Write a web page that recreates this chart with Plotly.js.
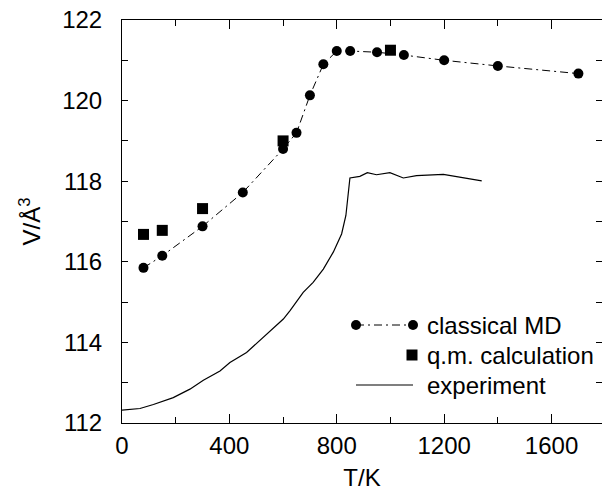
<!DOCTYPE html>
<html>
<head>
<meta charset="utf-8">
<script src="https://cdn.plot.ly/plotly-3.0.1.min.js"></script>
<style>html,body{margin:0;padding:0;background:#fff;}#chart{width:602px;height:491px;}</style>
</head>
<body>
<div id="chart"></div>
<script>
// classical MD
const mdT = [80, 150, 300, 450, 600, 650, 700, 750, 800, 850, 950, 1050, 1200, 1400, 1700];
const mdV = [115.85, 116.15, 116.88, 117.72, 118.8, 119.2, 120.13, 120.9, 121.23, 121.23, 121.2, 121.13, 121.0, 120.86, 120.67];
// q.m. calculation
const qmT = [80, 150, 300, 600, 1000];
const qmV = [116.68, 116.78, 117.32, 119.0, 121.25];
// experiment
const expT = [0, 67, 117, 191, 253, 303, 365, 402, 464, 526, 601, 626, 663, 675, 712, 750, 787, 818, 834, 843, 849, 886, 914, 948, 998, 1048, 1097, 1197, 1340];
const expV = [112.32, 112.36, 112.46, 112.63, 112.84, 113.06, 113.29, 113.5, 113.75, 114.12, 114.58, 114.79, 115.12, 115.24, 115.49, 115.82, 116.24, 116.69, 117.15, 117.65, 118.08, 118.12, 118.21, 118.16, 118.21, 118.08, 118.14, 118.17, 118.01];

const legendNames = ["classical MD", "q.m. calculation", "experiment"];

const FONT = "Liberation Sans, Arial, Helvetica, sans-serif";
const DASH = "8px,4px,2px,4px";

const traces = [
  {x: expT, y: expV, name: legendNames[2], type: "scatter", mode: "lines",
   line: {color: "#000", width: 1.2}, showlegend: false},
  {x: mdT, y: mdV, name: legendNames[0], type: "scatter", mode: "lines+markers",
   line: {color: "#000", width: 1, dash: DASH},
   marker: {symbol: "circle", size: 10, color: "#000"}, showlegend: false},
  {x: qmT, y: qmV, name: legendNames[1], type: "scatter", mode: "markers",
   marker: {symbol: "square", size: 11, color: "#000"}, showlegend: false}
];

// custom legend (paper coordinates)
const L = 122, T = 20, W = 480, H = 403;
const px = v => (v - L) / W;
const py = v => (T + H - v) / H;
const rows = [325, 355, 385];
const shapes = [
  {type: "line", xref: "paper", yref: "paper", x0: px(356), x1: px(413), y0: py(rows[0]), y1: py(rows[0]),
   line: {color: "#000", width: 1, dash: DASH}},
  {type: "circle", xref: "paper", yref: "paper", xsizemode: "pixel", ysizemode: "pixel",
   xanchor: px(356), yanchor: py(rows[0]), x0: -5, x1: 5, y0: -5, y1: 5, fillcolor: "#000", line: {width: 0}},
  {type: "circle", xref: "paper", yref: "paper", xsizemode: "pixel", ysizemode: "pixel",
   xanchor: px(413), yanchor: py(rows[0]), x0: -5, x1: 5, y0: -5, y1: 5, fillcolor: "#000", line: {width: 0}},
  {type: "rect", xref: "paper", yref: "paper", xsizemode: "pixel", ysizemode: "pixel",
   xanchor: px(412), yanchor: py(rows[1]), x0: -5.5, x1: 5.5, y0: -5.5, y1: 5.5, fillcolor: "#000", line: {width: 0}},
  {type: "line", xref: "paper", yref: "paper", x0: px(356), x1: px(413), y0: py(rows[2]), y1: py(rows[2]),
   line: {color: "#000", width: 1.2}}
];
const annotations = legendNames.map((t, i) => ({
  text: t, xref: "paper", yref: "paper", x: px(425), y: py(rows[i]),
  xanchor: "left", yanchor: "middle", showarrow: false,
  font: {family: FONT, size: 24, color: "#000"}
}));

const layout = {
  width: 602, height: 491,
  margin: {l: 122, r: 0, t: 20, b: 68, pad: 0},
  paper_bgcolor: "#fff", plot_bgcolor: "#fff",
  font: {family: FONT, size: 24, color: "#000"},
  showlegend: false,
  xaxis: {
    range: [0, 1788], dtick: 400, tick0: 0,
    ticks: "inside", ticklen: 9, tickwidth: 1, tickcolor: "#000",
    minor: {dtick: 200, ticks: "inside", ticklen: 6, tickwidth: 1, tickcolor: "#000"},
    showline: true, linecolor: "#000", linewidth: 1, mirror: "ticks",
    showgrid: false, zeroline: false,
    tickfont: {family: FONT, size: 24, color: "#000"},
    ticklabelstandoff: 1,
    title: {text: "T/K", font: {family: FONT, size: 24, color: "#000"}, standoff: 14}
  },
  yaxis: {
    range: [112, 122], dtick: 2, tick0: 112,
    ticks: "inside", ticklen: 6, tickwidth: 1, tickcolor: "#000",
    minor: {dtick: 1, ticks: "inside", ticklen: 6, tickwidth: 1, tickcolor: "#000"},
    showline: true, linecolor: "#000", linewidth: 1, mirror: "ticks",
    showgrid: false, zeroline: false,
    tickfont: {family: FONT, size: 24, color: "#000"},
    ticklabelstandoff: 14,
    title: {text: "V/Å<sup>3</sup>", font: {family: FONT, size: 24, color: "#000"}, standoff: 14}
  },
  shapes: shapes,
  annotations: annotations
};

Plotly.newPlot("chart", traces, layout, {displayModeBar: false, staticPlot: true});
</script>
</body>
</html>
